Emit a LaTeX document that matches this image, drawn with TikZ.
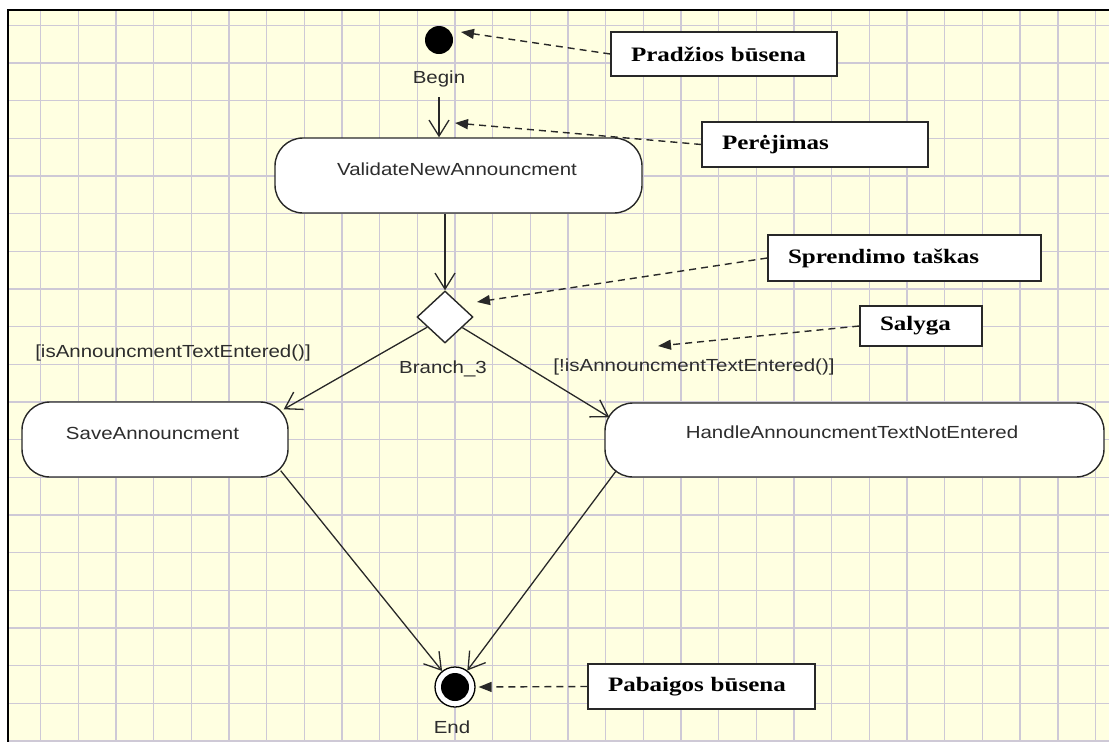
\documentclass[tikz,border=0pt]{standalone}
\usepackage{fontspec}
\usetikzlibrary{arrows.meta,shapes.geometric}

\newfontfamily\uisans[FakeStretch=1.17]{Liberation Sans}
\newfontfamily\noteserif[FakeStretch=1.22]{Liberation Serif}

\definecolor{paper}{RGB}{255,255,225}
\definecolor{gridline}{RGB}{206,201,214}
\definecolor{ink}{RGB}{40,40,40}
\definecolor{labelink}{RGB}{45,45,45}

\tikzset{
  activity/.style={draw=ink, line width=1.4pt, fill=white, rounded corners=28pt, inner sep=0pt},
  uitext/.style={font=\uisans\fontsize{17.5}{21}\selectfont, text=labelink, inner sep=0pt},
  note/.style={draw=ink, line width=1.5pt, fill=white, inner xsep=20pt, inner ysep=0pt,
    align=left, font=\noteserif\bfseries\fontsize{20.5}{24}\selectfont},
  pointer/.style={draw=ink, line width=1.4pt, dash pattern=on 7pt off 5pt,
    -{Triangle[length=13pt,width=10pt]}},
  trans/.style={draw=ink, line width=1.3pt, -{Straight Barb[length=16pt,width=20pt]}},
  gridstroke/.style={draw=gridline, line width=1.4pt},
}

\begin{document}
\begin{tikzpicture}[x=1pt,y=-1pt]
  \useasboundingbox (0,0) rectangle (1109,742);

  % paper with grid
  \fill[white] (0,0) rectangle (1109,742);
  \fill[paper] (8,10) rectangle (1109,742);
  \foreach \i in {0,...,28} {
    \draw[gridstroke] ({40.7+37.67*\i},10) -- ({40.7+37.67*\i},742);
  }
  \foreach \j in {0,...,19} {
    \draw[gridstroke] (8,{25.3+37.67*\j}) -- (1109,{25.3+37.67*\j});
  }
  \draw[black, line width=2.3pt] (8,742) -- (8,10) -- (1109,10);

  % initial and final states
  \node[circle, fill=black, minimum size=28pt, inner sep=0pt] (start) at (439,40) {};
  \node[uitext] (beginlbl) at (439,79) {Begin};

  \node[circle, draw=black, line width=1.3pt, fill=white, minimum size=40pt, inner sep=0pt,
    path picture={\fill[black] (path picture bounding box.center) circle[radius=14pt];}]
    (endnode) at (455,687) {};
  \node[uitext] (endlbl) at (452,727) {End};

  % activities
  \node[activity, minimum width=367pt, minimum height=75pt] (validate) at (458.5,175.5) {};
  \node[uitext] (validatelbl) at (457,169) {ValidateNewAnnouncment};

  \node[activity, minimum width=266pt, minimum height=75pt] (save) at (155,439.5) {};
  \node[uitext] (savelbl) at (152.5,433) {SaveAnnouncment};

  \node[activity, minimum width=499pt, minimum height=74pt] (handle) at (854.5,440) {};
  \node[uitext] (handlelbl) at (852,432) {HandleAnnouncmentTextNotEntered};

  % decision
  \node[diamond, draw=ink, fill=white, line width=1.4pt, minimum width=56pt,
    minimum height=52pt, inner sep=0pt] (dia) at (445,317) {};
  \node[uitext] (branchlbl) at (443,369) {Branch\_3};

  % guards
  \node[uitext] (guardyes) at (173,352.5) {[isAnnouncmentTextEntered()]};
  \node[uitext] (guardno) at (694,367) {[!isAnnouncmentTextEntered()]};

  % transitions
  \draw[trans] ([yshift=-10pt]beginlbl.south) -- (beginlbl.south |- validate.north);
  \draw[trans] (validate.south -| dia.north) -- (dia.north);
  \draw[trans] (dia) -- ([xshift=-5pt,yshift=-8pt]save.north east);
  \draw[trans] (dia) -- ([xshift=5pt,yshift=-15pt]handle.north west);
  \draw[trans] ([xshift=-8pt,yshift=7pt]save.south east) -- (endnode);
  \draw[trans] ([xshift=12pt,yshift=7pt]handle.south west) -- (endnode);

  % annotation boxes
  \node[note, text width=186pt, minimum height=44pt] (pradzios) at (724,54) {Pradžios būsena};
  \node[note, text width=186pt, minimum height=45pt] (perejimas) at (815,144.5) {Perėjimas};
  \node[note, text width=233pt, minimum height=46pt] (sprendimo) at (904.5,258) {Sprendimo taškas};
  \node[note, text width=82pt, minimum height=40pt] (salyga) at (921,326) {Salyga};
  \node[note, text width=187pt, minimum height=45pt] (pabaigos) at (701.5,686.5) {Pabaigos būsena};

  \coordinate (transtip) at (455,123);
  \coordinate (guardtip) at (658,346);

  \draw[pointer] (pradzios.west) -- ([shift={(22,-8)}]start.center);
  \draw[pointer] (perejimas.west) -- (transtip);
  \draw[pointer] (sprendimo.west) -- ([shift={(32,-15)}]dia.center);
  \draw[pointer] (salyga.west) -- (guardtip);
  \draw[pointer] (pabaigos.west) -- ([xshift=3pt]endnode.east);
\end{tikzpicture}
\end{document}
